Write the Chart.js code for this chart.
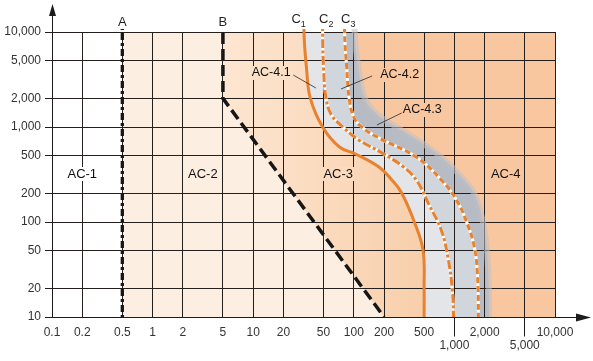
<!DOCTYPE html>
<html>
<head>
<meta charset="utf-8">
<script src="https://cdn.jsdelivr.net/npm/chart.js@4.4.1/dist/chart.umd.min.js"></script>
<style>
html,body{margin:0;padding:0;background:#ffffff;}
canvas{display:block;}
</style>
</head>
<body>
<canvas id="chart" width="593" height="361"></canvas>
<script>
// ---- axes (current in mA on x, time in ms on y) ----
const xTickValues = [0.1,0.2,0.5,1,2,5,10,20,50,100,200,500,1000,2000,5000,10000];
const xTickLabels = ['0.1','0.2','0.5','1','2','5','10','20','50','100','200','500','1,000','2,000','5,000','10,000'];
const xTickLowered = [1000, 5000];
const yTickValues = [10,20,50,100,200,500,1000,2000,5000,10000];
const yTickLabels = ['10','20','50','100','200','500','1,000','2,000','5,000','10,000'];

// ---- boundary lines, listed from top (long time) to bottom ----
const lineAx = [0.5, 0.5];
const lineAy = [10000, 10];
const lineBx = [5, 5, 200];
const lineBy = [10000, 2000, 10];
const curveC1x = [32, 34, 37, 49, 72, 104, 178, 239, 299, 400, 489, 500, 500];
const curveC1y = [10000, 4000, 2000, 1000, 616, 520, 379, 277, 202, 100, 50, 20, 10];
const curveC2x = [49, 50, 53, 60, 78, 112, 191, 313, 418, 561, 741, 871, 955, 980];
const curveC2y = [10000, 4285, 2000, 1337, 1000, 730, 533, 379, 277, 151, 82, 40, 19, 10];
const curveC3x = [81, 85, 90, 100, 120, 178, 418, 741, 1049, 1333, 1575, 1692, 1733];
const curveC3y = [10000, 4285, 2000, 1274, 1000, 766, 483, 277, 170, 98, 55, 29, 10];
const bandEdgeX = [102, 112, 129, 165, 245, 430, 760, 1200, 1600, 1920, 2100, 2200, 2200];
const bandEdgeY = [10000, 3981, 2000, 1404, 1050, 730, 472, 290, 192, 100, 50, 19, 10];

// ---- text annotations ----
const zoneLabels = ['AC-1','AC-2','AC-3','AC-4','AC-4.1','AC-4.2','AC-4.3'];
const zoneLabelX = [0.2, 3.16, 70, 3236, 15.1, 286, 479];
const zoneLabelY = [320, 320, 320, 320, 3700, 3524, 1510];
const leaderFromX = [25, 152, 299];
const leaderFromY = [3524, 3443, 1404];
const leaderToX = [42, 74.5, 170];
const leaderToY = [2573, 2512, 1050];
const curveNames = ['A','B','C','C','C'];
const curveSubs = ['','','1','2','3'];
const curveNameX = [0.5, 5, 28.3, 53.2, 88];
const curveNameY = [11560, 11560, 12440, 12440, 12440];

// ---- helpers building shapes from the arrays ----
const FAR_X = 1e6, TOP_Y = 1e5, BOT_Y = 1;
function pts(xs, ys) { return xs.map((v, i) => ({x: v, y: ys[i]})); }
function extended(xs, ys) {
  const p = pts(xs, ys);
  return [{x: xs[0], y: TOP_Y}, ...p, {x: xs[xs.length - 1], y: BOT_Y}];
}
function reversed(a) { return a.slice().reverse(); }

const ac2Shape = [{x: lineAx[0], y: TOP_Y}, {x: lineAx[0], y: BOT_Y}, {x: FAR_X, y: BOT_Y}, {x: FAR_X, y: TOP_Y}];
const bPts = pts(lineBx, lineBy);
const bLast = bPts[bPts.length - 1], bPrev = bPts[bPts.length - 2];
const kExt = 3;
const bExt = {
  x: Math.pow(10, Math.log10(bLast.x) + kExt * (Math.log10(bLast.x) - Math.log10(bPrev.x))),
  y: Math.pow(10, Math.log10(bLast.y) + kExt * (Math.log10(bLast.y) - Math.log10(bPrev.y)))
};
const ac3Shape = [{x: lineBx[0], y: TOP_Y}, ...bPts, bExt, {x: FAR_X, y: bExt.y}, {x: FAR_X, y: TOP_Y}];
const c1Ext = extended(curveC1x, curveC1y);
const c2Ext = extended(curveC2x, curveC2y);
const c3Ext = extended(curveC3x, curveC3y);
const bandExt = extended(bandEdgeX, bandEdgeY);
const ac4Shape = [...c1Ext, {x: FAR_X, y: BOT_Y}, {x: FAR_X, y: TOP_Y}];
const ac41Shape = [...c1Ext, ...reversed(c2Ext)];
const ac42Shape = [...c2Ext, ...reversed(c3Ext)];
const ac43Shape = [...c3Ext, ...reversed(bandExt)];

const ORANGE = '#e8822e';
function zone(data, color, order, tension) {
  return {data, fill: 'shape', backgroundColor: color, borderColor: 'rgba(0,0,0,0)', borderWidth: 0,
          pointRadius: 0, tension: tension, order: order, capBezierPoints: false};
}
function ac3Gradient(c) {
  const ch = c.chart;
  if (!ch.chartArea || !ch.scales.x) return '#fbdcc0';
  const g = ch.ctx.createLinearGradient(ch.scales.x.getPixelForValue(5), 0, ch.scales.x.getPixelForValue(500), 0);
  g.addColorStop(0, '#fde6d2');
  g.addColorStop(1, '#f8cfab');
  return g;
}
function curve(data, color, width, dash, order, tension) {
  return {data, fill: false, borderColor: color, borderWidth: width, borderDash: dash, pointRadius: 0,
          tension: tension, order: order, capBezierPoints: false, clip: {left: 0, right: 0, bottom: 0, top: 3}};
}

const decor = {
  id: 'decor',
  afterDraw(chart, args, opts) {
    const {ctx, chartArea: a, scales: {x, y}} = chart;
    const al = (p) => Math.round(p - 0.5) + 0.5;
    ctx.save();
    // zone labels
    ctx.textAlign = 'center';
    ctx.textBaseline = 'middle';
    zoneLabels.forEach((t, i) => {
      const px = x.getPixelForValue(zoneLabelX[i]);
      const py = y.getPixelForValue(zoneLabelY[i]);
      ctx.font = (t.length > 4 ? '12.5px' : '13px') + ' "Liberation Sans", Arial, sans-serif';
      const w = ctx.measureText(t).width;
      if (opts.labelBg[i]) {
        ctx.fillStyle = opts.labelBg[i];
        ctx.fillRect(px - w / 2 - 1, py - 7, w + 2, 14);
      }
      ctx.fillStyle = '#111111';
      ctx.fillText(t, px, py);
    });
    // leader lines
    ctx.strokeStyle = '#2a2a2a';
    ctx.lineWidth = 0.8;
    leaderFromX.forEach((v, i) => {
      ctx.beginPath();
      ctx.moveTo(x.getPixelForValue(v), y.getPixelForValue(leaderFromY[i]));
      ctx.lineTo(x.getPixelForValue(leaderToX[i]), y.getPixelForValue(leaderToY[i]));
      ctx.stroke();
    });
    // curve names
    ctx.fillStyle = '#231f20';
    ctx.textBaseline = 'alphabetic';
    curveNames.forEach((t, i) => {
      const px = x.getPixelForValue(curveNameX[i]);
      const py = y.getPixelForValue(curveNameY[i]);
      ctx.font = '13px "Liberation Sans", Arial, sans-serif';
      const w1 = ctx.measureText(t).width;
      ctx.font = '9px "Liberation Sans", Arial, sans-serif';
      const w2 = curveSubs[i] ? ctx.measureText(curveSubs[i]).width : 0;
      const start = px - (w1 + w2) / 2;
      ctx.textAlign = 'left';
      ctx.font = '13px "Liberation Sans", Arial, sans-serif';
      ctx.fillText(t, start, py);
      if (curveSubs[i]) {
        ctx.font = '9px "Liberation Sans", Arial, sans-serif';
        ctx.fillText(curveSubs[i], start + w1, py + 4);
      }
    });
    // axis lines with arrows
    ctx.strokeStyle = '#1c1c1c';
    ctx.fillStyle = '#1c1c1c';
    ctx.lineWidth = 1;
    const lx = al(a.left), by = al(a.bottom);
    ctx.beginPath(); ctx.moveTo(lx, by); ctx.lineTo(lx, 14); ctx.stroke();
    ctx.beginPath(); ctx.moveTo(lx, 4); ctx.lineTo(lx - 3.5, 16); ctx.lineTo(lx + 3.5, 16); ctx.closePath(); ctx.fill();
    ctx.beginPath(); ctx.moveTo(lx, by); ctx.lineTo(578, by); ctx.stroke();
    ctx.beginPath(); ctx.moveTo(591, by); ctx.lineTo(576, by - 4); ctx.lineTo(576, by + 4); ctx.closePath(); ctx.fill();
    // long ticks for the lowered labels
    xTickLowered.forEach(v => {
      const px = al(x.getPixelForValue(v));
      ctx.beginPath(); ctx.moveTo(px, by); ctx.lineTo(px, by + 19); ctx.stroke();
    });
    ctx.restore();
  }
};

const GRID = '#241f1c';
new Chart(document.getElementById('chart'), {
  type: 'line',
  data: {
    datasets: [
      zone(ac2Shape, '#fdeee2', 20, 0),
      zone(ac3Shape, ac3Gradient, 19, 0),
      zone(ac4Shape, '#f8c7a0', 18, 0.4),
      zone(ac43Shape, '#b6bbc4', 17, 0.4),
      zone(ac42Shape, '#d1d5dc', 16, 0.4),
      zone(ac41Shape, '#e3e5e9', 15, 0.4),
      curve(bandExt, 'rgba(190,192,198,0.55)', 6, [], 14, 0.4),
      curve(c3Ext, '#ffffff', 3, [], 9, 0.4),
      curve(c2Ext, '#ffffff', 3, [], 8, 0.4),
      curve(c3Ext, ORANGE, 3, [6, 3], 7, 0.4),
      curve(c2Ext, ORANGE, 3, [9, 2.5, 3, 2.5], 6, 0.4),
      curve(c1Ext, ORANGE, 3, [], 5, 0.4),
      curve([{x: lineAx[0], y: TOP_Y}, ...pts(lineAx, lineAy)], '#161616', 3.3, [7, 3, 3, 3], 4, 0),
      curve([{x: lineBx[0], y: TOP_Y}, ...pts(lineBx, lineBy)], '#161616', 3.5, [11, 5], 3, 0)
    ]
  },
  options: {
    responsive: false,
    animation: false,
    events: [],
    layout: {padding: {top: 32, right: 38, left: 0, bottom: 0}},
    plugins: {
      legend: {display: false},
      tooltip: {enabled: false},
      filler: {drawTime: 'beforeDraw'},
      decor: {labelBg: ['#ffffff', null, '#fbdabd', null, '#fbe0c8', '#f8c7a0', '#f8c7a0']}
    },
    scales: {
      x: {
        type: 'logarithmic', min: 0.1, max: 10000,
        afterBuildTicks: (s) => { s.ticks = xTickValues.map(v => ({value: v})); },
        afterFit: (s) => { s.height = 44; },
        grid: {color: GRID, lineWidth: 1, drawTicks: false},
        border: {display: false},
        ticks: {
          autoSkip: false, maxRotation: 0, minRotation: 0, padding: 9,
          color: '#333333', font: {family: '"Liberation Sans", Arial, sans-serif', size: 12, lineHeight: 1.1},
          callback: (v) => {
            const i = xTickValues.indexOf(v);
            const t = xTickLabels[i];
            return xTickLowered.includes(v) ? ['', t] : t;
          }
        }
      },
      y: {
        type: 'logarithmic', min: 10, max: 10000,
        afterBuildTicks: (s) => { s.ticks = yTickValues.map(v => ({value: v})); },
        afterFit: (s) => { s.width = 52; },
        grid: {color: GRID, lineWidth: 1, drawTicks: true, tickLength: 7, tickColor: GRID},
        border: {display: false},
        ticks: {
          autoSkip: false, padding: 4,
          color: '#333333', font: {family: '"Liberation Sans", Arial, sans-serif', size: 12},
          callback: (v) => yTickLabels[yTickValues.indexOf(v)]
        }
      }
    }
  },
  plugins: [decor]
});
</script>
</body>
</html>
